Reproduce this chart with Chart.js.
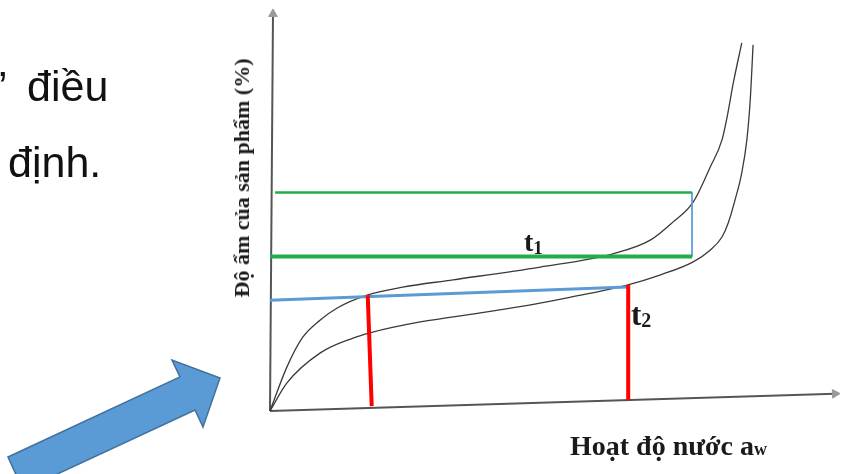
<!DOCTYPE html>
<html>
<head>
<meta charset="utf-8">
<script src="https://cdn.jsdelivr.net/npm/chart.js@4.4.1/dist/chart.umd.min.js"></script>
<style>
  html, body { margin: 0; padding: 0; background: #ffffff; overflow: hidden; width: 843px; height: 474px; }
  #wrap { position: relative; width: 843px; height: 474px; }
  canvas { position: absolute; left: 0; top: 0; }
  .slide { position: absolute; font-family: "Liberation Sans", Arial, sans-serif; font-size: 43px; line-height: 43px; color: #111; white-space: nowrap; }
  .lbl { position: absolute; font-family: "Liberation Serif", "Times New Roman", serif; font-weight: bold; color: #1a1a1a; white-space: nowrap; }
  svg { position: absolute; left: 0; top: 0; }
</style>
</head>
<body>
<div id="wrap">
  <canvas id="c" width="843" height="474"></canvas>
  <div class="slide" style="left:-2px; top:65px;">’</div>
  <div class="slide" style="left:27px; top:65px;">điều</div>
  <div class="slide" style="left:8px; top:141px;">định.</div>
  <div class="lbl" id="ytitle" style="left:242px; top:178px; font-size:22px; line-height:22px; transform: translate(-50%,-50%) rotate(-90deg);">Độ ẩm của sản phẩm (%)</div>
  <div class="lbl" style="left:570px; top:432px; font-size:28px; line-height:28px;">Hoạt độ nước a<span style="font-size:18px;">w</span></div>
  <div class="lbl" style="left:524px; top:228px; font-size:28px; line-height:28px;">t<span style="font-size:19px; position:relative; top:3px;">1</span></div>
  <div class="lbl" style="left:631px; top:300px; font-size:31px; line-height:30px;">t<span style="font-size:20px; position:relative; top:2px;">2</span></div>
  <svg width="843" height="474" viewBox="0 0 843 474">
    <polygon points="8,457 180,377 172,360 220,378 203,427 195,410 23,490" fill="#5b9bd5" stroke="#41719c" stroke-width="1.5"/>
  </svg>
</div>
<script>
// Water activity (x) and product moisture (%)
const awUpper = [0, 0.030, 0.058, 0.089, 0.119, 0.172, 0.235, 0.324, 0.478, 0.607, 0.673, 0.713, 0.749, 0.779, 0.800, 0.809, 0.820, 0.835];
const moistUpper = [0, 11.0, 18.4, 22.7, 25.7, 28.9, 30.9, 32.7, 35.9, 39.2, 42.6, 47.1, 52.1, 60.8, 67.6, 73.3, 81.8, 91.8];

const awLower = [0, 0.030, 0.089, 0.147, 0.177, 0.266, 0.384, 0.478, 0.526, 0.632, 0.690, 0.749, 0.779, 0.800, 0.811, 0.823, 0.835, 0.844, 0.850, 0.855];
const moistLower = [0, 7.0, 14.5, 18.2, 19.5, 22.2, 24.7, 26.9, 28.2, 31.4, 33.9, 37.2, 40.1, 43.4, 46.9, 52.6, 59.4, 67.6, 77.6, 91.3];

const greenHighX = [0.009, 0.747];
const greenHighY = [54.5, 54.5];
const greenLowX = [0, 0.747];
const greenLowY = [38.5, 38.5];
const connectorX = [0.747, 0.747];
const connectorY = [54.5, 38.5];
const blueX = [0, 0.632];
const blueY = [27.6, 30.9];
const red1X = [0.173, 0.180];
const red1Y = [28.9, 1.2];
const red2X = [0.634, 0.634];
const red2Y = [31.4, 2.7];
const xAxisX = [0, 1.0];
const xAxisY = [0, 4.3];
const yAxisX = [0, 0.0053];
const yAxisY = [0, 99];

const pts = (xs, ys) => xs.map((x, i) => ({ x: x, y: ys[i] }));

const seg = (xs, ys, color, width, extra) => Object.assign({
  data: pts(xs, ys),
  showLine: true,
  borderColor: color,
  backgroundColor: color,
  borderWidth: width,
  pointRadius: 0,
  pointHoverRadius: 0,
  clip: false,
  borderCapStyle: 'butt'
}, extra || {});

new Chart(document.getElementById('c'), {
  type: 'scatter',
  data: {
    datasets: [
      seg(red1X, red1Y, '#ff0000', 4),
      seg(red2X, red2Y, '#ff0000', 4),
      seg(blueX, blueY, '#5b9bd5', 3),
      seg(greenLowX, greenLowY, '#1fae4b', 4),
      seg(greenHighX, greenHighY, '#1fae4b', 2.5),
      seg(connectorX, connectorY, '#5b9bd5', 1),
      seg(awUpper, moistUpper, '#3a3a3a', 1.3, { cubicInterpolationMode: 'monotone' }),
      seg(awLower, moistLower, '#3a3a3a', 1.3, { cubicInterpolationMode: 'monotone' }),
      seg(xAxisX, xAxisY, '#555555', 2, {
        pointRadius: [0, 5], pointStyle: 'triangle', pointRotation: 88,
        pointBackgroundColor: '#9a9a9a', pointBorderColor: '#9a9a9a', pointBorderWidth: 1
      }),
      seg(yAxisX, yAxisY, '#555555', 2, {
        pointRadius: [0, 5], pointStyle: 'triangle', pointRotation: 0,
        pointBackgroundColor: '#9a9a9a', pointBorderColor: '#9a9a9a', pointBorderWidth: 1
      })
    ]
  },
  options: {
    responsive: false,
    animation: false,
    layout: { padding: { left: 270, right: 8, top: 10, bottom: 63 } },
    plugins: { legend: { display: false }, tooltip: { enabled: false } },
    events: [],
    scales: {
      x: { type: 'linear', min: 0, max: 1, display: false },
      y: { type: 'linear', min: 0, max: 100, display: false }
    }
  }
});
</script>
</body>
</html>
